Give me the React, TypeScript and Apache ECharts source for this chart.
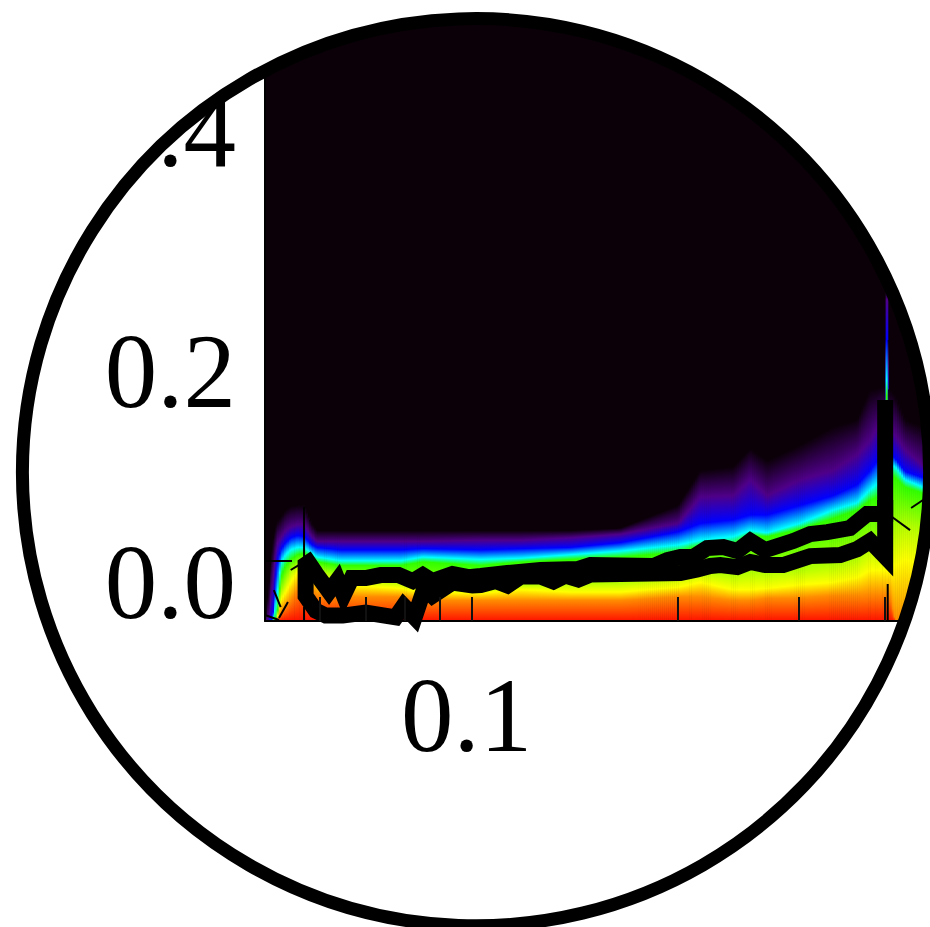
import React, { useEffect, useRef } from "react";
import * as echarts from "echarts";

const xSamples = [.05,.0506,.0513,.052,.0527,.0536,.0545,.0558,.057,.0583,.0595,.0645,.0788,.0849,.1031,.1179,.1394,.1648,.2,.2155,.2406,.2548,.2696,.3012,.3365,.3647,.3809,.3966,.4006,.4012,.404,.4046,.4073,.4142,.4283,.4548,.4656];
const levelBlack = [0,.026,.067,.082,.086,.092,.095,.096,.096,.082,.075,.075,.075,.075,.075,.075,.075,.077,.096,.125,.128,.143,.133,.146,.161,.167,.192,.194,.194,.274,.274,.192,.192,.187,.167,.161,.161];
const levelPurple = [0,0,.034,.063,.069,.075,.078,.080,.080,.071,.066,.066,.066,.066,.067,.067,.069,.072,.081,.103,.104,.117,.104,.117,.125,.138,.150,.167,.167,.266,.266,.158,.158,.154,.142,.129,.129];
const levelBlue = [0,0,0,.046,.059,.065,.069,.071,.070,.064,.061,.059,.059,.060,.059,.060,.061,.065,.074,.081,.084,.088,.088,.096,.104,.113,.125,.138,.138,.233,.233,.138,.138,.135,.124,.119,.119];
const levelCyan = [0,0,0,.017,.048,.055,.059,.061,.061,.057,.053,.050,.050,.053,.051,.052,.055,.058,.063,.067,.070,.075,.073,.081,.092,.098,.109,.117,.117,.200,.200,.125,.129,.128,.117,.111,.111];
const levelGreen = [0,0,0,0,.036,.046,.051,.055,.056,.053,.049,.046,.046,.049,.046,.049,.051,.053,.057,.062,.063,.071,.070,.076,.085,.092,.100,.104,.104,.187,.187,.117,.121,.119,.111,.106,.106];
const levelLime = [0,0,0,0,.023,.032,.041,.046,.051,.046,.042,.036,.032,.026,.026,.030,.031,.032,.038,.041,.038,.040,.040,.042,.046,.052,.061,.059,.059,.067,.067,.067,.067,.075,.080,.075,.075];
const levelYellow = [0,0,0,0,.017,.024,.032,.041,.046,.041,.036,.030,.027,.024,.023,.026,.024,.024,.028,.032,.026,.026,.027,.030,.032,.036,.042,.042,.042,.042,.042,.042,.042,.046,.051,.046,.046];
const levelOrange = [0,0,0,0,.007,.012,.017,.026,.030,.026,.022,.020,.020,.017,.017,.017,.017,.017,.020,.020,.017,.017,.019,.019,.021,.021,.022,.022,.022,.021,.021,.021,.021,0,0,0,0];

const upperLine = [[.057,.0539],[.0593,.0395],[.062,.0245],[.0638,.034],[.0651,.0215],[.0669,.0356],[.0701,.0356],[.0737,.0381],[.0783,.0381],[.0821,.0331],[.0849,.0381],[.0877,.0331],[.0938,.0389],[.099,.0364],[.1031,.0373],[.1128,.0398],[.126,.0422],[.1427,.0431],[.149,.0464],[.1841,.0456],[.1929,.0505],[.2015,.053],[.2104,.053],[.2205,.0605],[.2327,.0613],[.2439,.058],[.2548,.0663],[.2679,.0588],[.2942,.0663],[.3115,.0721],[.3298,.0737],[.356,.0771],[.377,.0887],[.4006,.0887],[.4006,.1832]];
const lowerLine = [[.0573,.0497],[.0573,.0207],[.0593,.0085],[.0613,.0045],[.0649,.0045],[.0701,.007],[.0775,.003],[.0796,.0125],[.0826,.003],[.0854,.0274],[.0877,.021],[.0938,.0319],[.1003,.0294],[.1031,.0298],[.1084,.0331],[.1128,.0294],[.1179,.0368],[.126,.0368],[.1316,.0327],[.137,.0377],[.1431,.0344],[.149,.0385],[.2015,.0397],[.2133,.0427],[.2228,.0456],[.2304,.0464],[.2439,.0447],[.2548,.0489],[.2679,.0464],[.2845,.0464],[.3115,.0538],[.3444,.0547],[.3647,.0596],[.3809,.0663],[.4006,.0534],[.4006,.1003]];
const thinLines = [
  [[.057,.0945],[.057,.0506]],
  [[.057,.0116],[.057,0]],
  [[.0515,.0257],[.0527,.0116]],
  [[.0524,.0025],[.054,.0158]],
  [[.05,.005],[.0524,.0008]],
  [[.0545,.0423],[.056,.0464]],
  [[.41,.0862],[.4355,.0754]],
  [[.437,.0937],[.4548,.1003]],
  [[.404,.0307],[.404,0]],
];

const xTickValues = [.06,.07,.08,.09,.1,.2,.3,.4];
const xLabelValues = [.1];
const yLabelValues = [0,.2,.4];
const yTickValues = [.05];

const levels = [levelBlack, levelPurple, levelBlue, levelCyan, levelGreen, levelLime, levelYellow, levelOrange];
const levelColors = ["#0b0008", "#4f0088", "#0000ff", "#00ffff", "#30ff00", "#b4ff00", "#ffff00", "#ff8a00"];
const floorColor = "#ff1200";
const background = "#0b0008";

echarts.graphic.registerShape(
  "roundMask",
  echarts.graphic.extendPath("M0 0H930V927H0Z M930 472.2A454 454 0 0 0 22 472.2A454 454 0 0 0 930 472.2Z", {})
);

function renderField(params: any, api: any) {
  const i = params.dataIndex;
  const left = api.coord([xSamples[i], 0]);
  const right = api.coord([xSamples[i + 1], 0]);
  const base = left[1];
  const span = right[0] - left[0];
  const n = Math.max(1, Math.ceil(span / 2));
  const w = span / n;
  const children: any[] = [];
  for (let k = 0; k < n; k++) {
    const t = (k + 0.5) / n;
    const ys = levels.map((l) => api.coord([xSamples[i], l[i] * (1 - t) + l[i + 1] * t])[1]);
    const top = ys[0];
    const h = base - top;
    if (h <= 0.2) continue;
    const stops = ys.map((y, j) => ({ offset: Math.min(1, Math.max(0, (y - top) / h)), color: levelColors[j] }));
    stops.push({ offset: 1, color: floorColor });
    children.push({
      type: "rect",
      shape: { x: left[0] + k * w, y: top, width: w + 0.6, height: h },
      style: { fill: new echarts.graphic.LinearGradient(0, 0, 0, 1, stops) },
    });
  }
  return { type: "group", children };
}

const thickLine = (data: number[][]) => ({
  type: "line",
  data,
  z: 4,
  clip: false,
  showSymbol: false,
  symbol: "none",
  silent: true,
  lineStyle: { color: "#000", width: 16, join: "miter", cap: "butt", miterLimit: 5 },
});

export default function App() {
  const ref = useRef<HTMLDivElement>(null);
  useEffect(() => {
    const chart = echarts.init(ref.current!, undefined, { renderer: "svg" });
    const labelStyle = { fontFamily: "Liberation Serif", fontSize: 105, color: "#000" };
    chart.setOption({
      animation: false,
      backgroundColor: "#fff",
      grid: { left: 265, top: 18, width: 665, height: 603, show: true, backgroundColor: background, borderWidth: 0 },
      xAxis: {
        type: "log",
        min: 0.05,
        max: 0.4656,
        logBase: 10,
        z: 6,
        splitLine: { show: false },
        minorTick: { show: false },
        axisLine: { show: true, lineStyle: { color: "#000", width: 2 } },
        axisTick: { show: true, inside: true, length: 24, customValues: xTickValues, lineStyle: { color: "#111", width: 2 } },
        axisLabel: { ...labelStyle, customValues: xLabelValues, margin: 42, padding: [0, 10, 0, 0], lineHeight: 104, formatter: (v: number) => v.toFixed(1) },
      },
      yAxis: {
        type: "value",
        min: 0,
        max: 0.5,
        z: 6,
        splitLine: { show: false },
        axisLine: { show: true, lineStyle: { color: "#000", width: 2 } },
        axisTick: { show: true, inside: true, length: 27, customValues: yTickValues, lineStyle: { color: "#000", width: 2 } },
        axisLabel: {
          ...labelStyle,
          customValues: yLabelValues,
          margin: 29,
          lineHeight: 16,
          verticalAlign: "bottom",
          rich: { low: { ...labelStyle, lineHeight: 78 }, up: { ...labelStyle, lineHeight: 16 } },
          formatter: (v: number) => (v === 0 ? "{low|0.0}" : `{up|${v.toFixed(1)}}`),
        },
      },
      series: [
        { type: "custom", z: 1, silent: true, clip: true, data: xSamples.slice(0, -1).map((x, i) => [x, xSamples[i + 1]]), renderItem: renderField },
        thickLine(upperLine),
        thickLine(lowerLine),
        ...thinLines.map((d) => ({
          type: "line",
          data: d,
          z: 5,
          clip: false,
          symbol: "none",
          silent: true,
          lineStyle: { color: "#000", width: 2 },
        })),
      ],
      graphic: [
        { type: "roundMask", x: 0, y: 0, z: 100, silent: true, style: { fill: "#fff" } },
        { type: "circle", z: 101, silent: true, shape: { cx: 476, cy: 472.2, r: 453.6 }, style: { fill: "none", stroke: "#000", lineWidth: 13 } },
      ],
    });
    return () => chart.dispose();
  }, []);
  return <div ref={ref} style={{ position: "absolute", left: 0, top: 0, width: 930, height: 927 }} />;
}
